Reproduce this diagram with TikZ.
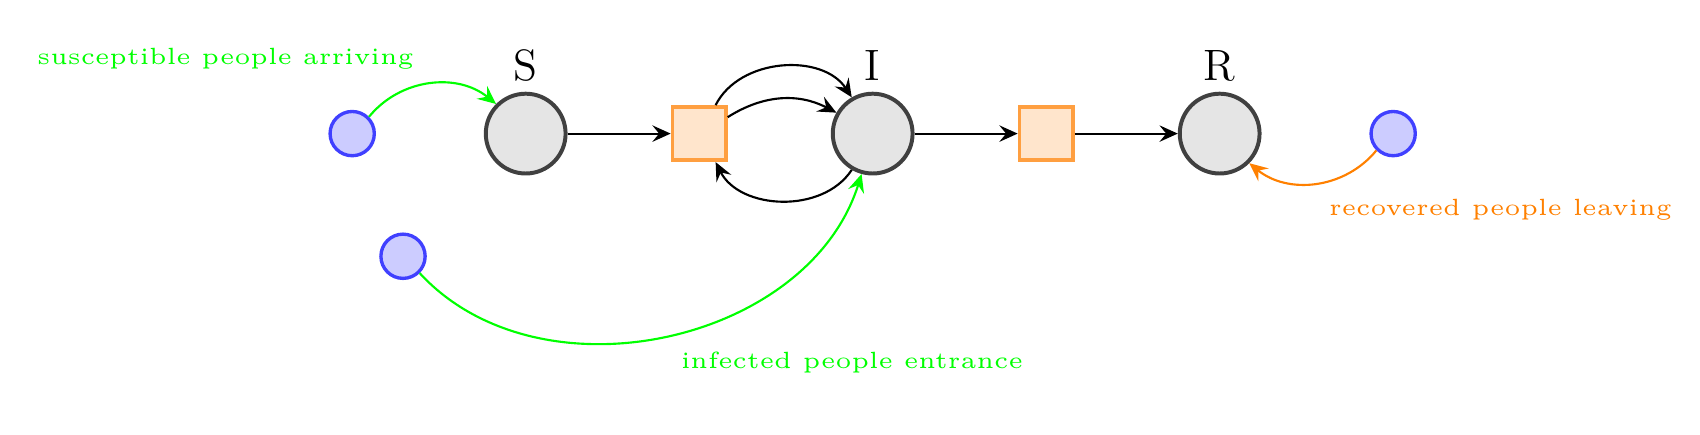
\documentclass[tikz,border=0pt]{standalone}
\usetikzlibrary{arrows.meta}
\begin{document}
\begin{tikzpicture}[
  >={Stealth[length=6pt,width=5.4pt,inset=2.2pt]},
  compartment/.style={circle, draw=black!75, fill=black!10, line width=1.3pt, minimum size=0.92cm, inner sep=0pt},
  flowbox/.style={rectangle, draw=orange!75, fill=orange!20, line width=1.2pt, minimum size=0.615cm, inner sep=0pt},
  source/.style={circle, draw=blue!75, fill=blue!20, line width=1.1pt, minimum size=0.51cm, inner sep=0pt},
  flowarrow/.style={->, line width=0.7pt},
  note/.style={font=\fontsize{5}{6}\selectfont, scale=1.54, inner sep=0pt},
  bigl/.style={font=\Large}
]
\useasboundingbox (0,0) rectangle (19.597,-5.003);

\node[compartment, label={[bigl]above:S}] (S) at (6.06,-1.54) {};
\node[flowbox] (sq1) at (8.06,-1.54) {};
\node[compartment, label={[bigl]above:I}] (I) at (10.06,-1.54) {};
\node[flowbox] (sq2) at (12.06,-1.54) {};
\node[compartment, label={[bigl]above:R}] (R) at (14.06,-1.54) {};

\node[source] (b1) at (4.06,-1.54) {};
\node[source] (bR) at (16.06,-1.54) {};
\node[source] (bL) at (4.646,-2.954) {};

\node[note, text=green] (t1) at (2.60,-0.675) {susceptible people arriving};
\node[note, text=orange] (t2) at (17.297,-2.421) {recovered people leaving};
\node[note, text=green] (t3) at (9.821,-4.173) {infected people entrance};

\draw[flowarrow] (S) -- (sq1);
\draw[flowarrow] (sq1) to[bend left=60] (I);
\draw[flowarrow] (sq1) to[bend left=30] (I);
\draw[flowarrow] (I) to[bend left=60] (sq1);
\draw[flowarrow] (I) -- (sq2);
\draw[flowarrow] (sq2) -- (R);

\draw[flowarrow, green] (b1) to[bend left=45] (S);
\draw[flowarrow, orange] (bR) to[bend left=45] (R);
\draw[flowarrow, green] (bL) to[bend right=60] (I);
\end{tikzpicture}
\end{document}
